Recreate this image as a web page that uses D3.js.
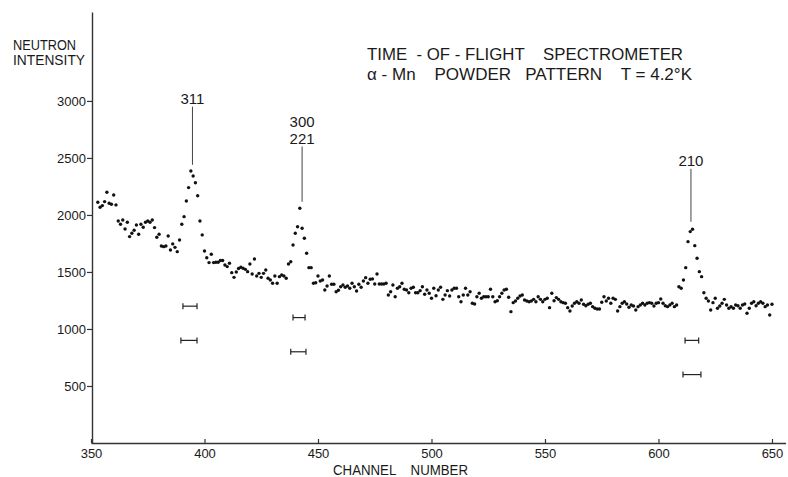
<!DOCTYPE html>
<html>
<head>
<meta charset="utf-8">
<script src="https://cdn.jsdelivr.net/npm/d3@7/dist/d3.min.js"></script>
<style>
  body { margin: 0; background: #fff; }
  svg { display: block; }
  text { font-family: "Liberation Sans", Arial, sans-serif; fill: #1a1a1a; white-space: pre; }
</style>
</head>
<body>
<svg id="chart" width="788" height="477"></svg>
<script>
// ---------- data ----------
const startChannel = 353;
const counts = [
  2111,2067,2082,2117,2199,2103,2094,2175,2088,1947,
  1918,1956,1877,1936,1810,1839,1866,1912,1831,1918,
  1892,1936,1947,1936,1956,1889,1804,1831,1728,1722,
  1728,1816,1693,1746,1716,1678,1781,1918,1985,2123,
  2240,2386,2342,2283,2169,1947,1825,1684,1625,1582,
  1655,1582,1585,1585,1600,1600,1561,1547,1576,1494,
  1453,1500,1530,1541,1532,1523,1503,1570,1482,1614,
  1465,1488,1453,1488,1517,1445,1430,1401,1465,1401,
  1459,1474,1465,1445,1570,1590,1737,1839,1897,2059,
  1883,1796,1664,1538,1538,1401,1406,1465,1421,1430,
  1342,1377,1465,1392,1392,1327,1340,1371,1386,1366,
  1377,1357,1401,1371,1333,1392,1366,1421,1450,1401,
  1436,1439,1395,1482,1395,1395,1395,1401,1298,1327,
  1386,1283,1357,1371,1401,1348,1342,1318,1357,1366,
  1318,1318,1336,1371,1304,1342,1313,1269,1357,1292,
  1342,1366,1260,1298,1336,1289,1342,1357,1357,1283,
  1239,1298,1357,1298,1327,1225,1219,1283,1313,1269,
  1283,1283,1283,1348,1283,1239,1248,1283,1313,1342,
  1348,1278,1152,1231,1246,1269,1289,1298,1254,1246,
  1239,1246,1260,1239,1283,1260,1239,1260,1269,1187,
  1313,1248,1275,1260,1239,1231,1225,1187,1158,1202,
  1225,1239,1225,1254,1217,1204,1217,1225,1196,1182,
  1175,1175,1234,1283,1246,1269,1225,1269,1260,1158,
  1196,1225,1239,1219,1190,1210,1202,1167,1196,1210,
  1225,1210,1225,1231,1225,1202,1225,1231,1263,1225,
  1204,1196,1210,1225,1196,1210,1371,1357,1430,1538,
  1766,1854,1875,1731,1620,1503,1459,1318,1269,1246,
  1167,1231,1269,1182,1202,1225,1260,1210,1182,1196,
  1182,1210,1204,1182,1210,1219,1138,1182,1225,1239,
  1204,1225,1239,1225,1196,1210,1123,1217
];
const channels = counts.map((_, i) => startChannel + i);

const xTicks = [350, 400, 450, 500, 550, 600, 650];
const yTicks = [500, 1000, 1500, 2000, 2500, 3000];

// peak identifications (Miller indices)
const peakLabels = [["311"], ["300", "221"], ["210"]];
const peakChannel = [394.7, 443, 614.3];
const peakLineTop = [2950, 2600, 2405];
const peakLineBottom = [2440, 2115, 1940];

// resolution bars
const resLo = [390.5, 389.6, 439, 438, 611.7, 610.8];
const resHi = [396.7, 396.7, 444.3, 444.7, 617.7, 618.7];
const resLevel = [1200, 900, 1100, 800, 900, 600];

const titleLines = ["TIME  - OF - FLIGHT    SPECTROMETER", "\u03B1 - Mn    POWDER   PATTERN    T = 4.2\u00B0K"];
const yTitle = ["NEUTRON", "INTENSITY"];
const xTitle = "CHANNEL    NUMBER";

// ---------- drawing ----------
const svg = d3.select("#chart");
const x = d3.scaleLinear().domain([350, 656]).range([91, 785.6]);
const y = d3.scaleLinear().domain([0, 3780]).range([443, 12]);
const ink = "#1a1a1a";

// x axis
const gx = svg.append("g").attr("transform", `translate(0,${y(0)})`)
  .call(d3.axisBottom(x).tickValues(xTicks).tickSizeInner(-4).tickSizeOuter(0).tickPadding(6).tickFormat(d3.format("d")));
gx.select(".domain").attr("stroke", "#333").attr("stroke-width", 1.4);
gx.selectAll(".tick line").attr("stroke", "#333").attr("stroke-width", 1.2);
gx.selectAll(".tick text").attr("font-size", 13).attr("fill", ink)
  .style("font-family", "Liberation Sans, Arial, sans-serif");

// y axis
const gy = svg.append("g").attr("transform", `translate(92,0)`)
  .call(d3.axisLeft(y).tickValues(yTicks).tickSizeInner(5).tickSizeOuter(0).tickPadding(1).tickFormat(d3.format("d")));
gy.select(".domain").attr("stroke", "#333").attr("stroke-width", 1.4);
gy.selectAll(".tick line").attr("stroke", "#333").attr("stroke-width", 1.2);
gy.selectAll(".tick text").attr("font-size", 13).attr("fill", ink)
  .style("font-family", "Liberation Sans, Arial, sans-serif");

// data points
svg.append("g").selectAll("circle")
  .data(counts)
  .join("circle")
  .attr("cx", (d, i) => x(channels[i]))
  .attr("cy", d => y(d))
  .attr("r", 1.7)
  .attr("fill", "#111");

// peak lines and labels
const peaks = svg.append("g");
peakLabels.forEach((lab, i) => {
  peaks.append("line")
    .attr("x1", x(peakChannel[i])).attr("x2", x(peakChannel[i]))
    .attr("y1", y(peakLineTop[i])).attr("y2", y(peakLineBottom[i]))
    .attr("stroke", "#444").attr("stroke-width", 1);
  lab.forEach((t, j) => {
    peaks.append("text")
      .attr("x", x(peakChannel[i]))
      .attr("y", y(peakLineTop[i]) - 3 - (lab.length - 1 - j) * 17)
      .attr("text-anchor", "middle")
      .attr("font-size", 15)
      .text(t);
  });
});

// resolution bars
const res = svg.append("g").attr("stroke", "#222").attr("stroke-width", 1.2);
resLevel.forEach((lv, i) => {
  const yy = y(lv), a = x(resLo[i]), b = x(resHi[i]);
  res.append("line").attr("x1", a).attr("x2", b).attr("y1", yy).attr("y2", yy);
  res.append("line").attr("x1", a).attr("x2", a).attr("y1", yy - 3).attr("y2", yy + 3);
  res.append("line").attr("x1", b).attr("x2", b).attr("y1", yy - 3).attr("y2", yy + 3);
});

// title
svg.append("text").attr("x", 367).attr("y", 60).attr("font-size", 17)
  .attr("textLength", 316).attr("lengthAdjust", "spacingAndGlyphs").text(titleLines[0]);
svg.append("text").attr("x", 367).attr("y", 80).attr("font-size", 17)
  .attr("textLength", 325).attr("lengthAdjust", "spacingAndGlyphs").text(titleLines[1]);

// y title
svg.append("text").attr("x", 13).attr("y", 50).attr("font-size", 14)
  .attr("textLength", 63).attr("lengthAdjust", "spacingAndGlyphs").text(yTitle[0]);
svg.append("text").attr("x", 13).attr("y", 65).attr("font-size", 14)
  .attr("textLength", 72).attr("lengthAdjust", "spacingAndGlyphs").text(yTitle[1]);

// x title
svg.append("text").attr("x", 333).attr("y", 475).attr("font-size", 15)
  .attr("textLength", 135).attr("lengthAdjust", "spacingAndGlyphs").text(xTitle);
</script>
</body>
</html>
